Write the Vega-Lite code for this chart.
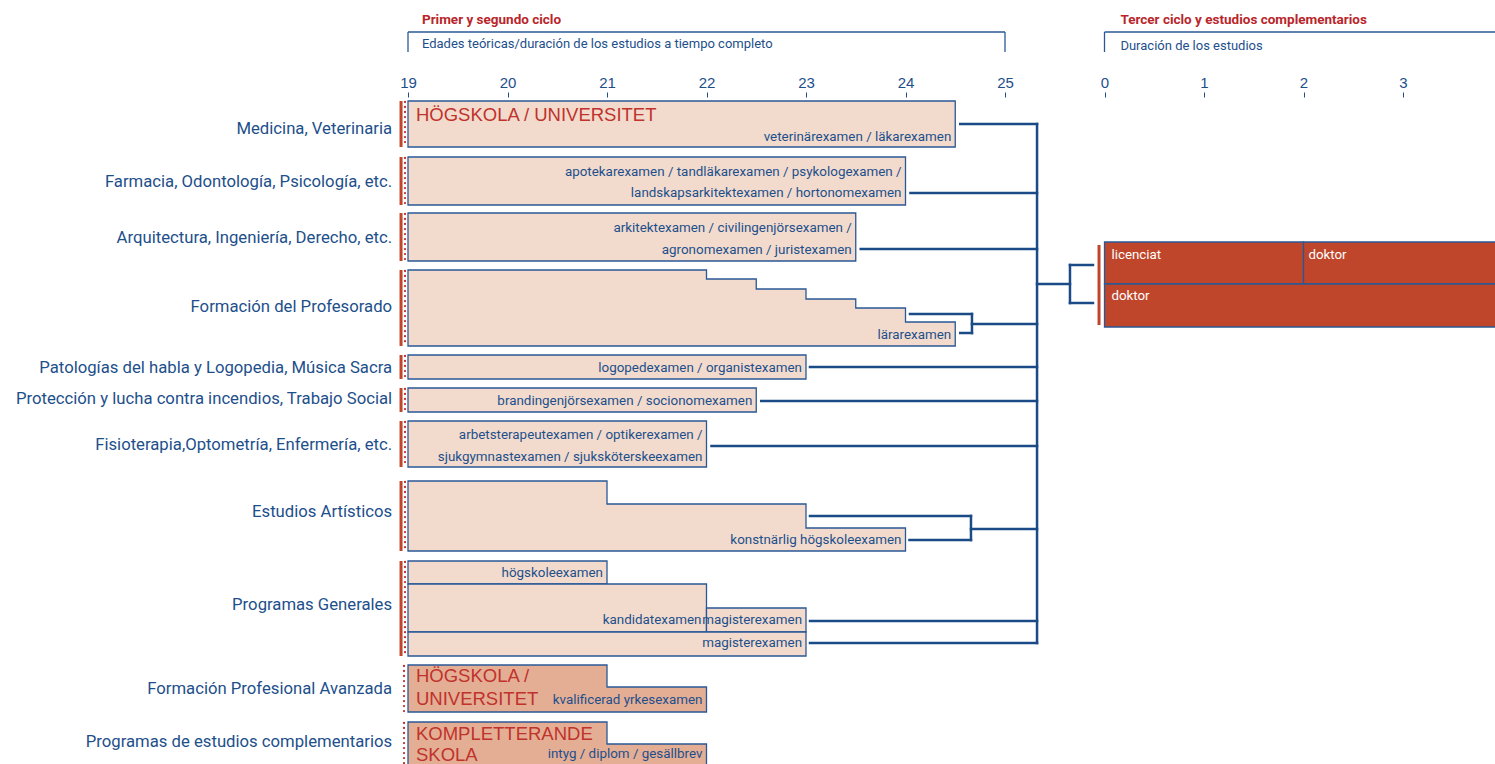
{
  "$schema": "https://vega.github.io/schema/vega-lite/v6.json",
  "width": 1495,
  "height": 764,
  "padding": 0,
  "autosize": {"type": "none"},
  "background": "white",
  "config": {"view": {"stroke": null}},
  "datasets": {
    "shapes": [
      {"shape": "med", "kind": "light", "x": 19, "y": 101, "y2": 147},
      {"shape": "med", "kind": "light", "x": 24.5, "y": 101, "y2": 147},
      {"shape": "far", "kind": "light", "x": 19, "y": 157, "y2": 205},
      {"shape": "far", "kind": "light", "x": 24, "y": 157, "y2": 205},
      {"shape": "arq", "kind": "light", "x": 19, "y": 213, "y2": 261},
      {"shape": "arq", "kind": "light", "x": 23.5, "y": 213, "y2": 261},
      {"shape": "pro", "kind": "light", "x": 19, "y": 270, "y2": 346},
      {"shape": "pro", "kind": "light", "x": 22, "y": 279, "y2": 346},
      {"shape": "pro", "kind": "light", "x": 22.5, "y": 289, "y2": 346},
      {"shape": "pro", "kind": "light", "x": 23, "y": 299, "y2": 346},
      {"shape": "pro", "kind": "light", "x": 23.5, "y": 308, "y2": 346},
      {"shape": "pro", "kind": "light", "x": 24, "y": 322, "y2": 346},
      {"shape": "pro", "kind": "light", "x": 24.5, "y": 322, "y2": 346},
      {"shape": "pat", "kind": "light", "x": 19, "y": 355, "y2": 379},
      {"shape": "pat", "kind": "light", "x": 23, "y": 355, "y2": 379},
      {"shape": "prot", "kind": "light", "x": 19, "y": 388, "y2": 412},
      {"shape": "prot", "kind": "light", "x": 22.5, "y": 388, "y2": 412},
      {"shape": "fis", "kind": "light", "x": 19, "y": 421, "y2": 467},
      {"shape": "fis", "kind": "light", "x": 22, "y": 421, "y2": 467},
      {"shape": "art", "kind": "light", "x": 19, "y": 481, "y2": 551},
      {"shape": "art", "kind": "light", "x": 21, "y": 504, "y2": 551},
      {"shape": "art", "kind": "light", "x": 23, "y": 528, "y2": 551},
      {"shape": "art", "kind": "light", "x": 24, "y": 528, "y2": 551},
      {"shape": "gen1", "kind": "light", "x": 19, "y": 561, "y2": 584},
      {"shape": "gen1", "kind": "light", "x": 21, "y": 561, "y2": 584},
      {"shape": "gen2", "kind": "light", "x": 19, "y": 584, "y2": 632},
      {"shape": "gen2", "kind": "light", "x": 22, "y": 584, "y2": 632},
      {"shape": "gen3", "kind": "light", "x": 22, "y": 608, "y2": 632},
      {"shape": "gen3", "kind": "light", "x": 23, "y": 608, "y2": 632},
      {"shape": "gen4", "kind": "light", "x": 19, "y": 632, "y2": 656},
      {"shape": "gen4", "kind": "light", "x": 23, "y": 632, "y2": 656},
      {"shape": "ava", "kind": "medium", "x": 19, "y": 665, "y2": 712},
      {"shape": "ava", "kind": "medium", "x": 21, "y": 687, "y2": 712},
      {"shape": "ava", "kind": "medium", "x": 22, "y": 687, "y2": 712},
      {"shape": "com", "kind": "medium", "x": 19, "y": 722, "y2": 790},
      {"shape": "com", "kind": "medium", "x": 21, "y": 744, "y2": 790},
      {"shape": "com", "kind": "medium", "x": 22, "y": 744, "y2": 790},
      {"shape": "lic", "kind": "dark", "x": 26, "y": 242, "y2": 284},
      {"shape": "lic", "kind": "dark", "x": 28, "y": 242, "y2": 284},
      {"shape": "dok1", "kind": "dark", "x": 28, "y": 242, "y2": 284},
      {"shape": "dok1", "kind": "dark", "x": 30.5, "y": 242, "y2": 284},
      {"shape": "dok2", "kind": "dark", "x": 26, "y": 284, "y2": 327},
      {"shape": "dok2", "kind": "dark", "x": 30.5, "y": 284, "y2": 327}
    ],
    "links": [
      {"kind": "link", "x": 24.55, "x2": 25.322, "y": 124, "y2": 124},
      {"kind": "link", "x": 25.322, "x2": 25.322, "y": 124, "y2": 643},
      {"kind": "link", "x": 24.05, "x2": 25.322, "y": 193, "y2": 193},
      {"kind": "link", "x": 23.55, "x2": 25.322, "y": 249, "y2": 249},
      {"kind": "link", "x": 24.045, "x2": 24.668, "y": 314, "y2": 314},
      {"kind": "link", "x": 24.55, "x2": 24.668, "y": 333, "y2": 333},
      {"kind": "link", "x": 24.668, "x2": 24.668, "y": 314, "y2": 333},
      {"kind": "link", "x": 24.668, "x2": 25.322, "y": 324, "y2": 324},
      {"kind": "link", "x": 23.04, "x2": 25.322, "y": 367, "y2": 367},
      {"kind": "link", "x": 22.55, "x2": 25.322, "y": 401, "y2": 401},
      {"kind": "link", "x": 22.05, "x2": 25.322, "y": 446, "y2": 446},
      {"kind": "link", "x": 23.04, "x2": 24.658, "y": 516, "y2": 516},
      {"kind": "link", "x": 24.04, "x2": 24.658, "y": 540, "y2": 540},
      {"kind": "link", "x": 24.658, "x2": 24.658, "y": 516, "y2": 540},
      {"kind": "link", "x": 24.658, "x2": 25.322, "y": 529, "y2": 529},
      {"kind": "link", "x": 23.04, "x2": 25.322, "y": 621, "y2": 621},
      {"kind": "link", "x": 23.04, "x2": 25.322, "y": 643, "y2": 643},
      {"kind": "link", "x": 25.322, "x2": 25.653, "y": 284, "y2": 284},
      {"kind": "link", "x": 25.653, "x2": 25.653, "y": 265, "y2": 303},
      {"kind": "link", "x": 25.653, "x2": 25.884, "y": 265, "y2": 265},
      {"kind": "link", "x": 25.653, "x2": 25.884, "y": 303, "y2": 303},
      {"kind": "bracket", "x": 19, "x2": 25, "y": 32, "y2": 32},
      {"kind": "bracket", "x": 19, "x2": 19, "y": 32, "y2": 52},
      {"kind": "bracket", "x": 25, "x2": 25, "y": 32, "y2": 52},
      {"kind": "bracket", "x": 26, "x2": 30.5, "y": 32, "y2": 32},
      {"kind": "bracket", "x": 26, "x2": 26, "y": 32, "y2": 52}
    ],
    "markers": [
      {"kind": "bar", "x": 18.93, "y": 101, "y2": 147},
      {"kind": "bar", "x": 18.93, "y": 157, "y2": 205},
      {"kind": "bar", "x": 18.93, "y": 213, "y2": 261},
      {"kind": "bar", "x": 18.93, "y": 270, "y2": 346},
      {"kind": "bar", "x": 18.93, "y": 355, "y2": 379},
      {"kind": "bar", "x": 18.93, "y": 388, "y2": 412},
      {"kind": "bar", "x": 18.93, "y": 421, "y2": 467},
      {"kind": "bar", "x": 18.93, "y": 481, "y2": 551},
      {"kind": "bar", "x": 18.93, "y": 561, "y2": 656},
      {"kind": "bar", "x": 25.945, "y": 245, "y2": 325},
      {"kind": "dots", "x": 18.97, "y": 102, "y2": 147},
      {"kind": "dots", "x": 18.97, "y": 158, "y2": 205},
      {"kind": "dots", "x": 18.97, "y": 214, "y2": 261},
      {"kind": "dots", "x": 18.97, "y": 271, "y2": 346},
      {"kind": "dots", "x": 18.97, "y": 356, "y2": 379},
      {"kind": "dots", "x": 18.97, "y": 389, "y2": 412},
      {"kind": "dots", "x": 18.97, "y": 422, "y2": 467},
      {"kind": "dots", "x": 18.97, "y": 482, "y2": 551},
      {"kind": "dots", "x": 18.97, "y": 562, "y2": 656},
      {"kind": "dots", "x": 18.96, "y": 666, "y2": 712},
      {"kind": "dots", "x": 18.96, "y": 723, "y2": 764}
    ],
    "texts": [
      {"role": "category", "text": "Medicina, Veterinaria", "x": 18.84, "y": 129},
      {"role": "category", "text": "Farmacia, Odontología, Psicología, etc.", "x": 18.84, "y": 182},
      {"role": "category", "text": "Arquitectura, Ingeniería, Derecho, etc.", "x": 18.84, "y": 238},
      {"role": "category", "text": "Formación del Profesorado", "x": 18.84, "y": 307},
      {"role": "category", "text": "Patologías del habla y Logopedia, Música Sacra", "x": 18.84, "y": 368},
      {"role": "category", "text": "Protección y lucha contra incendios, Trabajo Social", "x": 18.84, "y": 399},
      {"role": "category", "text": "Fisioterapia,Optometría, Enfermería, etc.", "x": 18.84, "y": 445},
      {"role": "category", "text": "Estudios Artísticos", "x": 18.84, "y": 512},
      {"role": "category", "text": "Programas Generales", "x": 18.84, "y": 605},
      {"role": "category", "text": "Formación Profesional Avanzada", "x": 18.84, "y": 689},
      {"role": "category", "text": "Programas de estudios complementarios", "x": 18.84, "y": 742},
      {"role": "degree", "text": "veterinärexamen / läkarexamen", "x": 24.46, "y": 137},
      {"role": "degree", "text": "apotekarexamen / tandläkarexamen / psykologexamen /", "x": 23.96, "y": 172},
      {"role": "degree", "text": "landskapsarkitektexamen / hortonomexamen", "x": 23.96, "y": 193},
      {"role": "degree", "text": "arkitektexamen / civilingenjörsexamen /", "x": 23.46, "y": 228},
      {"role": "degree", "text": "agronomexamen / juristexamen", "x": 23.46, "y": 250},
      {"role": "degree", "text": "lärarexamen", "x": 24.46, "y": 335},
      {"role": "degree", "text": "logopedexamen / organistexamen", "x": 22.96, "y": 368},
      {"role": "degree", "text": "brandingenjörsexamen / socionomexamen", "x": 22.46, "y": 401},
      {"role": "degree", "text": "arbetsterapeutexamen / optikerexamen /", "x": 21.96, "y": 435},
      {"role": "degree", "text": "sjukgymnastexamen / sjuksköterskeexamen", "x": 21.96, "y": 457},
      {"role": "degree", "text": "konstnärlig högskoleexamen", "x": 23.96, "y": 540},
      {"role": "degree", "text": "högskoleexamen", "x": 20.96, "y": 573},
      {"role": "degree", "text": "kandidatexamen", "x": 21.95, "y": 620},
      {"role": "degree", "text": "magisterexamen", "x": 22.96, "y": 620},
      {"role": "degree", "text": "magisterexamen", "x": 22.96, "y": 643},
      {"role": "degree", "text": "kvalificerad yrkesexamen", "x": 21.96, "y": 700},
      {"role": "degree", "text": "intyg / diplom / gesällbrev", "x": 21.96, "y": 754},
      {"role": "institution", "text": "HÖGSKOLA / UNIVERSITET", "x": 19.08, "y": 115},
      {"role": "institution", "text": "HÖGSKOLA /", "x": 19.08, "y": 676},
      {"role": "institution", "text": "UNIVERSITET", "x": 19.08, "y": 699},
      {"role": "institution", "text": "KOMPLETTERANDE", "x": 19.08, "y": 734},
      {"role": "institution", "text": "SKOLA", "x": 19.08, "y": 755},
      {"role": "doctoral", "text": "licenciat", "x": 26.07, "y": 255},
      {"role": "doctoral", "text": "doktor", "x": 28.05, "y": 255},
      {"role": "doctoral", "text": "doktor", "x": 26.07, "y": 296},
      {"role": "header", "text": "Primer y segundo ciclo", "x": 19.14, "y": 20},
      {"role": "header", "text": "Tercer ciclo y estudios complementarios", "x": 26.16, "y": 20},
      {"role": "subheader", "text": "Edades teóricas/duración de los estudios a tiempo completo", "x": 19.14, "y": 44},
      {"role": "subheader", "text": "Duración de los estudios", "x": 26.16, "y": 46}
    ]
  },
  "encoding": {
    "x": {
      "field": "x",
      "type": "quantitative",
      "scale": {"domain": [14.8995, 29.9246], "nice": false, "zero": false},
      "axis": {
        "orient": "top",
        "offset": -97,
        "values": [19, 20, 21, 22, 23, 24, 25, 26, 27, 28, 29],
        "labelExpr": "datum.value > 25.5 ? format(datum.value - 26, 'd') : format(datum.value, 'd')",
        "domain": false,
        "grid": false,
        "ticks": true,
        "tickSize": 5,
        "tickWidth": 1,
        "tickColor": "#1D4F8B",
        "labelColor": "#1D4F8B",
        "labelFont": "Liberation Sans",
        "labelFontSize": 15,
        "labelPadding": 2,
        "labelOverlap": false,
        "labelFlush": false,
        "title": null
      }
    },
    "y": {
      "field": "y",
      "type": "quantitative",
      "scale": {"domain": [0, 764], "reverse": true, "nice": false, "zero": false},
      "axis": null
    }
  },
  "layer": [
    {
      "data": {"name": "shapes"},
      "mark": {"type": "area", "orient": "vertical", "interpolate": "step-after", "stroke": "#2A5896", "strokeWidth": 1.3, "opacity": 1, "fillOpacity": 1},
      "encoding": {
        "y2": {"field": "y2"},
        "fill": {"field": "kind", "type": "nominal", "scale": {"domain": ["light", "medium", "dark"], "range": ["#F2DBCD", "#E4AE95", "#BF462B"]}, "legend": null},
        "detail": {"field": "shape", "type": "nominal"}
      }
    },
    {
      "data": {"name": "links"},
      "transform": [{"filter": "datum.kind === 'link'"}],
      "mark": {"type": "rule", "color": "#1B4B87", "strokeWidth": 2.5, "strokeCap": "square"},
      "encoding": {"x2": {"field": "x2"}, "y2": {"field": "y2"}}
    },
    {
      "data": {"name": "links"},
      "transform": [{"filter": "datum.kind === 'bracket'"}],
      "mark": {"type": "rule", "color": "#2A5896", "strokeWidth": 1.3},
      "encoding": {"x2": {"field": "x2"}, "y2": {"field": "y2"}}
    },
    {
      "data": {"name": "markers"},
      "transform": [{"filter": "datum.kind === 'bar'"}],
      "mark": {"type": "rule", "color": "#C0452B", "strokeWidth": 3},
      "encoding": {"y2": {"field": "y2"}}
    },
    {
      "data": {"name": "markers"},
      "transform": [{"filter": "datum.kind === 'dots'"}],
      "mark": {"type": "rule", "color": "#C0322C", "strokeWidth": 2.3, "strokeCap": "round", "strokeDash": [0.01, 5]},
      "encoding": {"y2": {"field": "y2"}}
    },
    {
      "data": {"name": "texts"},
      "transform": [{"filter": "datum.role === 'category'"}],
      "mark": {"type": "text", "align": "right", "baseline": "middle", "font": "Roboto", "fontSize": 16.7, "color": "#1D4F8B"},
      "encoding": {"text": {"field": "text"}}
    },
    {
      "data": {"name": "texts"},
      "transform": [{"filter": "datum.role === 'degree'"}],
      "mark": {"type": "text", "align": "right", "baseline": "middle", "font": "Roboto", "fontSize": 13.4, "color": "#1D4F8B"},
      "encoding": {"text": {"field": "text"}}
    },
    {
      "data": {"name": "texts"},
      "transform": [{"filter": "datum.role === 'institution'"}],
      "mark": {"type": "text", "align": "left", "baseline": "middle", "font": "Liberation Sans", "fontSize": 18.5, "color": "#C0322C"},
      "encoding": {"text": {"field": "text"}}
    },
    {
      "data": {"name": "texts"},
      "transform": [{"filter": "datum.role === 'doctoral'"}],
      "mark": {"type": "text", "align": "left", "baseline": "middle", "font": "Roboto", "fontSize": 13.3, "color": "#FFFFFF"},
      "encoding": {"text": {"field": "text"}}
    },
    {
      "data": {"name": "texts"},
      "transform": [{"filter": "datum.role === 'header'"}],
      "mark": {"type": "text", "align": "left", "baseline": "middle", "font": "Roboto", "fontSize": 13.5, "fontWeight": "bold", "color": "#B8262B"},
      "encoding": {"text": {"field": "text"}}
    },
    {
      "data": {"name": "texts"},
      "transform": [{"filter": "datum.role === 'subheader'"}],
      "mark": {"type": "text", "align": "left", "baseline": "middle", "font": "Roboto", "fontSize": 13, "color": "#1D4F8B"},
      "encoding": {"text": {"field": "text"}}
    }
  ]
}
